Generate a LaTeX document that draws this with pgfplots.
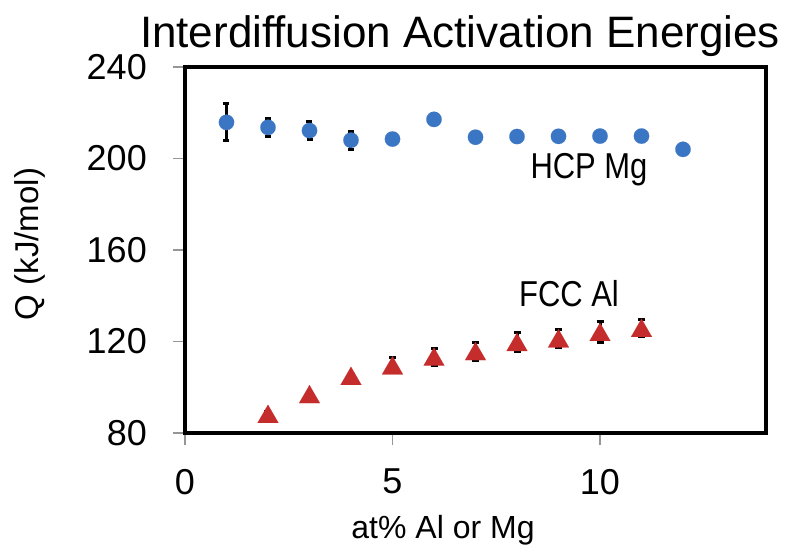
\documentclass[border=0pt]{standalone}
\usepackage{fontspec}
\setmainfont{Liberation Sans}
\newfontfamily\narrowfont[FakeStretch=0.86]{Liberation Sans}
\usepackage{pgfplots}
\pgfplotsset{compat=1.18}
\definecolor{mgblue}{RGB}{59,118,196}
\definecolor{alred}{RGB}{197,45,45}
\definecolor{tickgray}{RGB}{150,150,150}
\begin{document}
\begin{tikzpicture}
\begin{axis}[
 scale only axis, width=581pt, height=366pt,
 at={(0,0)}, anchor=south west,
 xmin=0, xmax=14, ymin=80, ymax=240,
 xtick={0,5,10}, ytick={80,120,160,200,240},
 separate axis lines,
 axis line style={line width=3pt, black},
 tick align=outside, xtick pos=bottom, ytick pos=left,
 major tick length=12pt,
 tick style={tickgray, line width=1.5pt},
 /pgf/number format/assume math mode=true,
 tick label style={font=\fontsize{36}{36}\selectfont},
 y tick label style={inner xsep=26pt},
 x tick label style={inner ysep=24pt},
 clip=false,
]
\addplot[only marks, mark=*, mark size=7.7pt, mark options={fill=mgblue, draw=mgblue, line width=0.1pt},
 error bars/.cd, y dir=both, y explicit,
 error bar style={black, line width=3pt},
 error mark options={rotate=90, black, mark size=3pt, line width=3pt}]
 table[x=x, y=y, y error=e] {
x y e
1 215.8 8.1
2 213.6 3.9
3 212.2 4.1
4 208.0 4.0
5 208.5 1.5
6 217.1 1.5
7 209.3 1.5
8 209.6 1.5
9 209.7 1.5
10 209.8 1.5
11 209.8 1.5
12 204.0 1.5
};
\addplot[only marks, mark=triangle*, mark size=12pt, mark options={fill=alred, draw=alred, line width=0.1pt, yshift=-3pt},
 error bars/.cd, y dir=both, y explicit,
 error bar style={black, line width=3pt},
 error mark options={rotate=90, black, mark size=3.5pt, line width=3pt}]
 table[x=x, y=y, y error=e] {
x y e
2 88.4 0.9
3 97.0 0.9
4 105.0 0.6
5 109.6 3.3
6 113.4 3.7
7 115.8 3.9
8 119.8 4.1
9 121.4 3.9
10 124.2 4.6
11 126.0 3.8
};
\end{axis}
\draw[line width=3.5pt, black] (0,0) rectangle (581pt,366pt);
\node[anchor=base, font=\fontsize{44}{44}\selectfont] at (275pt,385pt) {Interdiffusion Activation Energies};
\node[rotate=90, anchor=center, font=\fontsize{33}{33}\selectfont] at (-155pt,189pt) {Q (kJ/mol)};
\node[anchor=base, font=\fontsize{32}{32}\selectfont] at (258pt,-105pt) {at\% Al or Mg};
\node[anchor=base, font=\narrowfont\fontsize{36}{36}\selectfont] at (404pt,254pt) {HCP Mg};
\node[anchor=base, font=\narrowfont\fontsize{36}{36}\selectfont] at (384pt,126pt) {FCC Al};
\pgfresetboundingbox
\path[use as bounding box] (-185pt,-113pt) rectangle (602pt,433pt);
\end{tikzpicture}
\end{document}
